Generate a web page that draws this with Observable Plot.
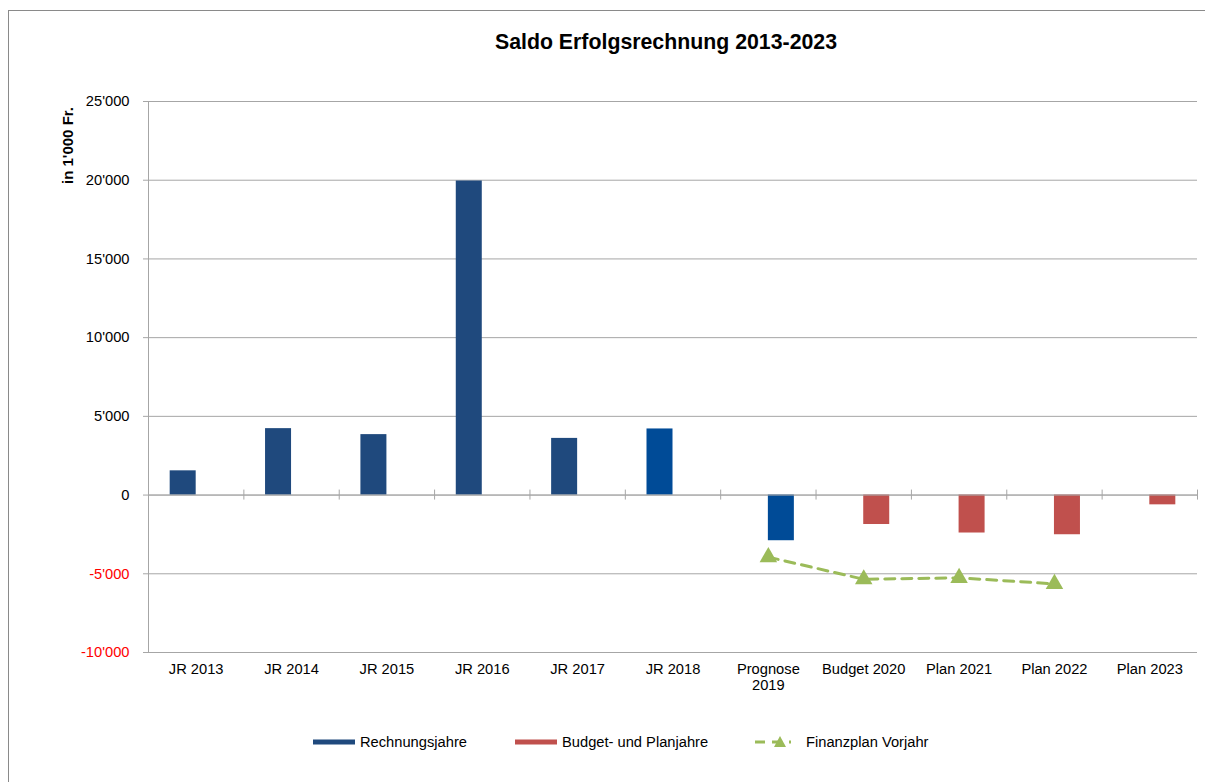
<!DOCTYPE html>
<html>
<head>
<meta charset="utf-8">
<script src="https://cdn.jsdelivr.net/npm/d3@7"></script>
<script src="https://cdn.jsdelivr.net/npm/@observablehq/plot@0.6"></script>
<style>
  html, body { margin: 0; padding: 0; background: #fff; }
  #wrap { position: relative; width: 1205px; height: 782px; overflow: hidden; font-family: "Liberation Sans", Arial, sans-serif; }
  #frame { position: absolute; left: 8px; top: 10px; width: 1220px; height: 800px; border: 1px solid #8a8a8a; box-sizing: border-box; }
  #title { position: absolute; left: 666px; top: 30px; transform: translateX(-50%); font-size: 21.3px; font-weight: bold; white-space: nowrap; color: #000; }
  #chart { position: absolute; left: 0; top: 60px; }
  .leg { position: absolute; top: 733px; height: 18px; display: flex; align-items: center; font-size: 14.7px; color: #000; white-space: nowrap; }
  .leg svg { margin-right: 5px; }
</style>
</head>
<body>
<div id="wrap">
  <div id="frame"></div>
  <div id="title"></div>
  <div id="chart"></div>
  <div id="legend"></div>
</div>
<script>
const titleText = "Saldo Erfolgsrechnung 2013-2023";
const yLabel = "in 1'000 Fr.";
const categories = ["JR 2013", "JR 2014", "JR 2015", "JR 2016", "JR 2017", "JR 2018", "Prognose\n2019", "Budget 2020", "Plan 2021", "Plan 2022", "Plan 2023"];
const rechnungsjahre = [1540, 4220, 3840, 19950, 3600, 4200, null, null, null, null, null];
const budgetPlanjahre = [null, null, null, null, null, null, -2900, -1870, -2410, -2520, -620];
const finanzplanVorjahr = [null, null, null, null, null, null, -3940, -5350, -5260, -5640, null];
const yTicks = [-10000, -5000, 0, 5000, 10000, 15000, 20000, 25000];
const seriesNames = ["Rechnungsjahre", "Budget- und Planjahre", "Finanzplan Vorjahr"];

const darkBlue = "#1F497D", midBlue = "#004B97", red = "#C0504D", green = "#9BBB59", gridColor = "#a6a6a6";

document.getElementById("title").textContent = titleText;

const fmt = d3.formatLocale({decimal: ".", thousands: "'", grouping: [3], currency: ["", ""], minus: "-"}).format(",d");

const marginLeft = 148, marginRight = 8, marginTop = 41, marginBottom = 68, W = 1205, H = 660;
const bw = (W - marginLeft - marginRight) / categories.length;
const unitsPerPx = (yTicks[yTicks.length - 1] - yTicks[0]) / (H - marginTop - marginBottom);

const rows = categories.map((c, i) => ({cat: c, i, r: rechnungsjahre[i], b: budgetPlanjahre[i], f: finanzplanVorjahr[i]}));
const rRows = rows.filter(d => d.r != null);
const bRows = rows.filter(d => d.b != null);
const fRows = rows.filter(d => d.f != null);

const barW = 26;
const fs = 14.7;

const plot = Plot.plot({
  width: W, height: H,
  marginLeft, marginRight, marginTop, marginBottom,
  style: {fontFamily: "'Liberation Sans', Arial, sans-serif", fontSize: fs + "px", color: "#000", background: "transparent", overflow: "visible"},
  x: {domain: categories, padding: 0, round: false, label: null},
  y: {domain: [yTicks[0], yTicks[yTicks.length - 1]], label: null},
  marks: [
    Plot.gridY(yTicks, {stroke: gridColor, strokeOpacity: 1}),
    Plot.barY(rRows, {x: "cat", y: "r", fill: d => d.i >= 5 ? midBlue : darkBlue, insetLeft: bw / 2 - barW, insetRight: bw / 2}),
    Plot.barY(bRows, {x: "cat", y: "b", fill: d => d.i === 6 ? midBlue : red, insetLeft: bw / 2, insetRight: bw / 2 - barW}),
    Plot.ruleY([0], {stroke: gridColor}),
    Plot.ruleX(categories.slice(1), {x: d => d, y1: -5 * unitsPerPx, y2: 5 * unitsPerPx, dx: -bw / 2, stroke: gridColor}),
    Plot.ruleX(categories.slice(-1), {x: d => d, y1: -5 * unitsPerPx, y2: 5 * unitsPerPx, dx: bw / 2, stroke: gridColor}),
    Plot.line(fRows, {x: "cat", y: "f", stroke: green, strokeWidth: 3, strokeDasharray: "10,7"}),
    Plot.dot(fRows, {x: "cat", y: "f", symbol: "triangle", fill: green, r: 6.5}),
    Plot.axisY(yTicks, {tickFormat: fmt, tickSize: 5, tickPadding: 14, stroke: gridColor, fill: d => d < 0 ? "#ff0000" : "#000", fontSize: fs, label: null}),
    Plot.frame({anchor: "left", stroke: gridColor}),
    Plot.axisX({tickSize: 0, tickPadding: 9, lineHeight: 1.15, fontSize: fs, label: null}),
    Plot.text([yLabel], {frameAnchor: "top-left", textAnchor: "middle", lineAnchor: "middle", rotate: -90, dx: -80, dy: 44, fontWeight: "bold", fontSize: 15, fill: "#000"})
  ]
});
document.getElementById("chart").appendChild(plot);

// legend
const legend = document.getElementById("legend");
const legItems = [
  {name: seriesNames[0], left: 313, svg: `<svg width="42" height="10"><rect x="0" y="2.5" width="42" height="5" fill="${darkBlue}"/></svg>`},
  {name: seriesNames[1], left: 515, svg: `<svg width="42" height="10"><rect x="0" y="2.5" width="42" height="5" fill="${red}"/></svg>`},
  {name: seriesNames[2], left: 755, svg: `<svg width="46" height="14"><line x1="0" y1="7" x2="36" y2="7" stroke="${green}" stroke-width="3" stroke-dasharray="10,7"/><path d="M25,1 L31,12 L19,12 Z" fill="${green}"/></svg>`}
];
for (const it of legItems) {
  const d = document.createElement("div");
  d.className = "leg";
  d.style.left = it.left + "px";
  d.innerHTML = it.svg + `<span>${it.name}</span>`;
  legend.appendChild(d);
}
</script>
</body>
</html>
